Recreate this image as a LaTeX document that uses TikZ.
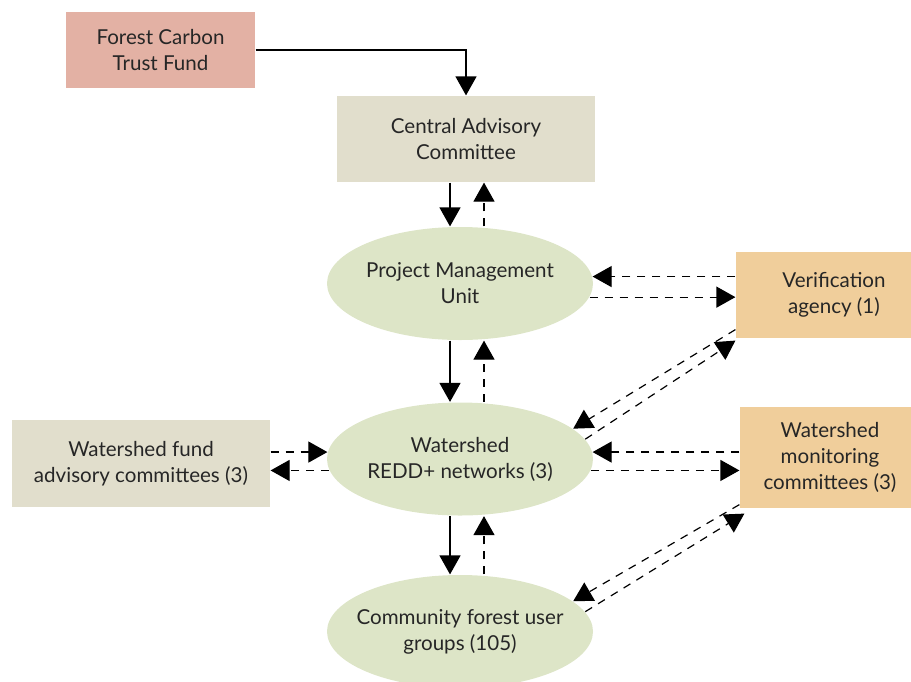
\documentclass[tikz,border=0pt]{standalone}
\usepackage{fontspec}
\setmainfont{Lato}
\usetikzlibrary{shapes.geometric, arrows.meta}
\definecolor{fundpink}{HTML}{E3B1A4}
\definecolor{boardgrey}{HTML}{E1DECC}
\definecolor{unitgreen}{HTML}{DDE5C7}
\definecolor{agencyorange}{HTML}{F0CE9B}
\tikzstyle{fund} = [rectangle, minimum width=3.78cm, minimum height=1.52cm, text centered, align=center, fill=fundpink]
\tikzstyle{board} = [rectangle, minimum width=5.16cm, minimum height=1.72cm, text centered, align=center, fill=boardgrey]
\tikzstyle{unit} = [ellipse, minimum width=5.32cm, minimum height=2.26cm, inner sep=0pt, fill=unitgreen]
\tikzstyle{unittext} = [align=center, text=black!85]
\tikzstyle{agency} = [rectangle, minimum width=3.92cm, minimum height=1.72cm, text centered, align=center, fill=agencyorange]

\begin{document}
\begin{tikzpicture}[font=\fontsize{11.7}{14.8}\selectfont, text=black!85,
  >={Triangle[length=0.38cm, width=0.42cm]}, line width=0.68pt,
  dashed/.style={dash pattern=on 0.16cm off 0.14cm}]

\useasboundingbox (0,0) rectangle (18.22,-13.62);

\node (fund) [fund] at (3.21,-1.00) {Forest Carbon\\Trust Fund};
\node (cac) [board] at (9.32,-2.78) {Central Advisory\\Committee};
\node (pmu) [unit, label={[unittext]center:Project Management\\Unit}] at (9.20,-5.67) {};
\node (wrn) [unit, label={[unittext]center:Watershed\\REDD+ networks (3)}] at (9.20,-9.18) {};
\node (cfug) [unit, label={[unittext]center:Community forest user\\groups (105)}] at (9.20,-12.63) {};
\node (va) [agency] at (16.68,-5.90) {Verification\\agency (1)};
\node (wmc) [agency, minimum width=3.60cm, minimum height=2.02cm] at (16.60,-9.15) {Watershed\\monitoring\\committees (3)};
\node (wfac) [board, minimum height=1.74cm] at (2.82,-9.27) {Watershed fund\\advisory committees (3)};

% lanes for the up/down links
\coordinate (lanedown) at (9.00,0);
\coordinate (laneup) at (9.68,0);

\draw[->] (fund.east) -| (cac.north);

\draw[->] (cac.south -| lanedown) -- (pmu.north -| lanedown);
\draw[->,dashed] (pmu.north -| laneup) -- (cac.south -| laneup);

\draw[->] (pmu.south -| lanedown) -- (wrn.north -| lanedown);
\draw[->,dashed] (wrn.north -| laneup) -- (pmu.south -| laneup);

\draw[->] (wrn.south -| lanedown) -- (cfug.north -| lanedown);
\draw[->,dashed] (cfug.north -| laneup) -- (wrn.south -| laneup);

\draw[->,dashed] (va.west |- pmu.3) -- (pmu.3);
\draw[->,dashed] (pmu.-6) -- (va.west |- pmu.-6);

\draw[->,dashed] ([yshift=0.18cm]va.south west) -- (wrn.15);
\draw[->,dashed] (wrn.9) -- ([yshift=-0.04cm]va.south west);

\draw[->,dashed] (wmc.west |- wrn.3) -- (wrn.3);
\draw[->,dashed] (wrn.-5) -- (wmc.west |- wrn.-5);

\draw[->,dashed] (wfac.east |- wrn.177) -- (wrn.177);
\draw[->,dashed] (wrn.185) -- (wfac.east |- wrn.185);

\draw[->,dashed] ([yshift=0.08cm]wmc.south west) -- (cfug.15);
\draw[->,dashed] (cfug.9) -- ([shift={(0.1,-0.1)}]wmc.south west);

\end{tikzpicture}
\end{document}
